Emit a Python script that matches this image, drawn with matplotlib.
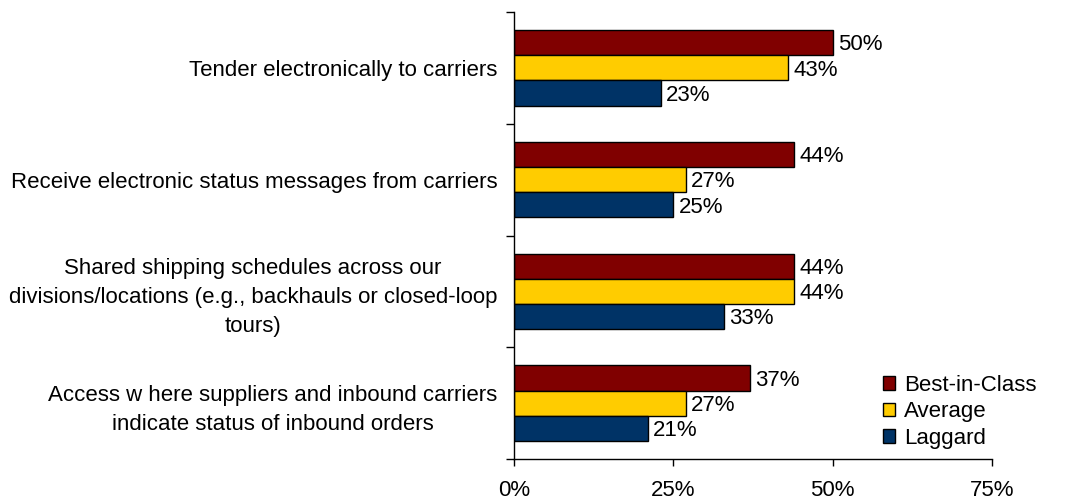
import matplotlib.pyplot as plt
import numpy as np

plt.rcParams['font.family'] = ['Liberation Sans', 'DejaVu Sans']

categories = [
    'Tender electronically to carriers',
    'Receive electronic status messages from carriers',
    'Shared shipping schedules across our\ndivisions/locations (e.g., backhauls or closed-loop\ntours)',
    'Access w here suppliers and inbound carriers\nindicate status of inbound orders',
]
series_names = ['Best-in-Class', 'Average', 'Laggard']
best_in_class = [50, 44, 44, 37]
average = [43, 27, 44, 27]
laggard = [23, 25, 33, 21]
x_ticks = [0, 25, 50, 75]

colors = ['#800000', '#FFCC00', '#003366']
fs = 16

fig = plt.figure(figsize=(10.65, 5.04), dpi=100)
ax = fig.add_axes([514 / 1065, 45 / 504, 478 / 1065, 447 / 504])

y = np.arange(len(categories))
h = 0.225
for k, (vals, name, col) in enumerate(zip([best_in_class, average, laggard], series_names, colors)):
    pos = y + (k - 1) * h
    ax.barh(pos, vals, height=h, color=col, edgecolor='black', linewidth=1.0, label=name)
    for p, v in zip(pos, vals):
        ax.text(v + 0.8, p + 0.02, f'{v}%', va='center', ha='left', fontsize=fs)

ax.set_ylim(len(categories) - 0.5, -0.5)
ax.set_xlim(0, 75)

ax.set_yticks(y)
ax.set_yticklabels(categories, fontsize=fs, multialignment='center', linespacing=1.5)
ax.tick_params(axis='y', which='major', length=0, pad=12)
ax.set_yticks(np.arange(len(categories) + 1) - 0.5, minor=True)
ax.tick_params(axis='y', which='minor', length=6, width=1, direction='out')

ax.set_xticks(x_ticks)
ax.set_xticklabels([f'{t}%' for t in x_ticks], fontsize=fs)
ax.tick_params(axis='x', length=5, width=1, direction='out', pad=10)

for s in ['top', 'right']:
    ax.spines[s].set_visible(False)
for s in ['left', 'bottom']:
    ax.spines[s].set_linewidth(1)

ax.legend(loc='center left', bbox_to_anchor=(883 / 1065, 1 - 412 / 504),
          bbox_transform=fig.transFigure, frameon=False, fontsize=fs,
          borderpad=0, borderaxespad=0, handlelength=0.55, handleheight=0.55,
          handletextpad=0.4, labelspacing=0.25)

fig.savefig('out.png', dpi=100)
